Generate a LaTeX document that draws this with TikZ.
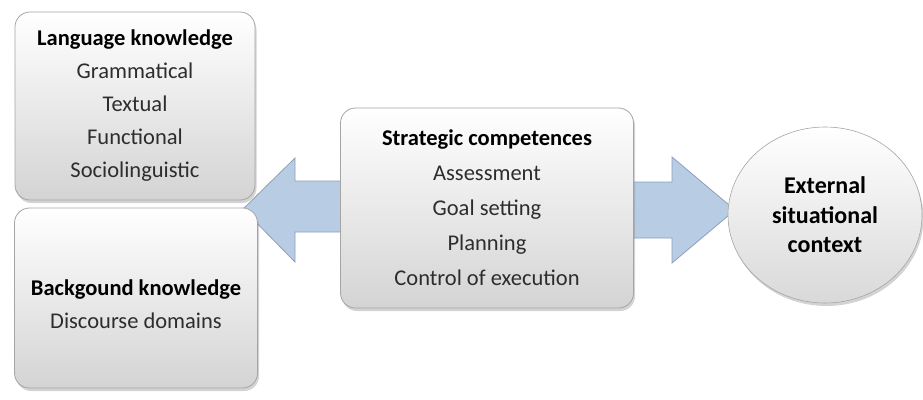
\documentclass[tikz,border=0pt]{standalone}
\usepackage{fontspec}
\setmainfont{Carlito}
\usepackage{tikz}
\usetikzlibrary{shadows,shapes.geometric}
\definecolor{arrowfill}{RGB}{184,204,228}
\definecolor{arrowedge}{RGB}{140,160,188}
\definecolor{boxedge}{RGB}{165,165,165}
\definecolor{txtgray}{RGB}{45,45,45}

\begin{document}
\begin{tikzpicture}[x=1pt,y=-1pt,
  box/.style={draw=boxedge, line width=0.8pt, rounded corners=15pt,
    top color=white, bottom color=black!17, shading angle=0,
    drop shadow={shadow xshift=1.5pt,shadow yshift=-3pt,opacity=0.35},
    align=center, text=txtgray, inner sep=0pt,
    font=\fontsize{22.5}{33}\selectfont},
  blockarrow/.style={draw=arrowedge, fill=arrowfill, line width=0.8pt}]
\useasboundingbox (0,0) rectangle (923,399);

% Arrows (behind the boxes)
\draw[blockarrow] (243,209) -- (295,158) -- (295,181) -- (350,181)
  -- (350,232) -- (295,232) -- (295,262) -- cycle;
\draw[blockarrow] (625,182) -- (672,182) -- (672,157) -- (735,210)
  -- (672,263) -- (672,238) -- (625,238) -- cycle;

% Language knowledge (left top)
\node[box, minimum width=240pt, minimum height=188pt] (lang) at (135,106)
  {{\color{black}\bfseries Language knowledge}\\Grammatical\\Textual\\
   Functional\\Sociolinguistic};

% Background knowledge (left bottom)
\node[box, minimum width=243pt, minimum height=180pt] (backg) at (136,298)
  {\\[-4pt]{\color{black}\bfseries Backgound knowledge}\\Discourse domains};

% Strategic competences (middle)
\node[box, minimum width=293pt, minimum height=200pt] (strat) at (487,208)
  {{\color{black}\bfseries Strategic competences}\\[2pt]Assessment\\[2pt]
   Goal setting\\[2pt]Planning\\[2pt]Control of execution};

% External situational context (right)
\node[ellipse, draw=boxedge, line width=0.6pt, top color=white,
  bottom color=black!15,
  drop shadow={shadow xshift=1.5pt,shadow yshift=-3pt,opacity=0.35},
  minimum width=194pt, minimum height=176pt, inner sep=0pt, align=center,
  font=\fontsize{24}{29.5}\selectfont\bfseries] (ext) at (825,215)
  {External\\situational\\context};
\end{tikzpicture}
\end{document}
